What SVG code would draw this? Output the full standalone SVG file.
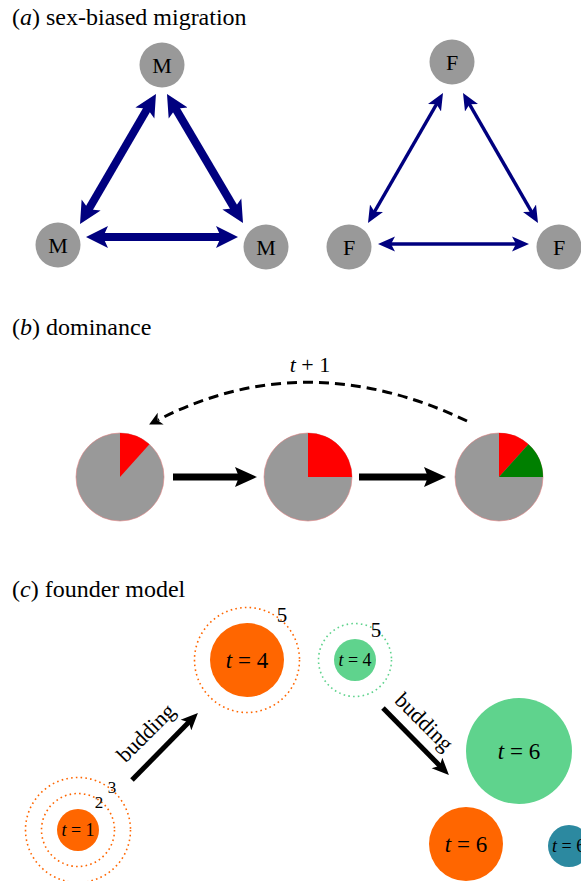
<svg xmlns="http://www.w3.org/2000/svg" width="581" height="881" viewBox="0 0 581 881">
<style>
text{font-family:"Liberation Serif","Times New Roman",serif;fill:#000}
.title{font-size:24px}
.node{fill:#999999}
.lbl{font-size:22px;text-anchor:middle}
.mig{fill:none;stroke:#00007f}
.pie{fill:#999999;stroke:#e08080;stroke-width:0.6}
.blk{stroke:#000;fill:none}
.ring{fill:none;stroke-width:1.6;stroke-dasharray:1.6 3.2}
.tl{text-anchor:middle}
</style>
<defs>
<marker id="hM" markerUnits="userSpaceOnUse" viewBox="0 -12 24 24" refX="8" refY="0" markerWidth="24" markerHeight="24" orient="auto-start-reverse">
<path d="M0,-11 L22,0 L0,11 L5,0 Z" fill="#00007f"/>
</marker>
<marker id="hF" markerUnits="userSpaceOnUse" viewBox="0 -9 19 18" refX="6" refY="0" markerWidth="19" markerHeight="18" orient="auto-start-reverse">
<path d="M0,-7.5 L17,0 L0,7.5 L4,0 Z" fill="#00007f"/>
</marker>
<marker id="hB" markerUnits="userSpaceOnUse" viewBox="0 -11 24 22" refX="8" refY="0" markerWidth="24" markerHeight="22" orient="auto">
<path d="M0,-10 L22,0 L0,10 L4,0 Z" fill="#000"/>
</marker>
<marker id="hD" markerUnits="userSpaceOnUse" viewBox="-2 -8 16 16" refX="3" refY="0" markerWidth="16" markerHeight="16" orient="auto">
<path d="M0,-6.5 L13,0 L0,6.5 L3.5,0 Z" fill="#000"/>
</marker>
<marker id="hC" markerUnits="userSpaceOnUse" viewBox="0 -9 19 18" refX="6" refY="0" markerWidth="19" markerHeight="18" orient="auto">
<path d="M0,-7.5 L17,0 L0,7.5 L4,0 Z" fill="#000"/>
</marker>
</defs>

<!-- Panel a -->
<text class="title" x="12" y="25">(<tspan font-style="italic">a</tspan>) sex-biased migration</text>
<g id="connectors-a">
<line class="mig" stroke-width="8" x1="148.9" y1="106.1" x2="87.1" y2="211.9" marker-start="url(#hM)" marker-end="url(#hM)"/>
<line class="mig" stroke-width="8" x1="174.1" y1="106.1" x2="235.9" y2="210.9" marker-start="url(#hM)" marker-end="url(#hM)"/>
<line class="mig" stroke-width="8" x1="100" y1="237" x2="224" y2="237" marker-start="url(#hM)" marker-end="url(#hM)"/>
<line class="mig" stroke-width="3.5" x1="437.5" y1="102.5" x2="373.5" y2="213.5" marker-start="url(#hF)" marker-end="url(#hF)"/>
<line class="mig" stroke-width="3.5" x1="468.5" y1="102.5" x2="532.5" y2="213.5" marker-start="url(#hF)" marker-end="url(#hF)"/>
<line class="mig" stroke-width="3.5" x1="389" y1="244" x2="518" y2="244" marker-start="url(#hF)" marker-end="url(#hF)"/>
</g>
<g id="m-top"><circle class="node" cx="162" cy="65" r="22.5"/><text class="lbl" x="162" y="72.5">M</text></g>
<g id="m-left"><circle class="node" cx="58" cy="245" r="22.5"/><text class="lbl" x="58" y="252.5">M</text></g>
<g id="m-right"><circle class="node" cx="266" cy="247" r="22.5"/><text class="lbl" x="266" y="254.5">M</text></g>
<g id="f-top"><circle class="node" cx="452" cy="62" r="22.5"/><text class="lbl" x="452" y="69.5">F</text></g>
<g id="f-left"><circle class="node" cx="349" cy="247" r="22.5"/><text class="lbl" x="349" y="254.5">F</text></g>
<g id="f-right"><circle class="node" cx="559" cy="247" r="22.5"/><text class="lbl" x="559" y="254.5">F</text></g>

<!-- Panel b -->
<text class="title" x="12" y="335">(<tspan font-style="italic">b</tspan>) dominance</text>
<g id="connectors-b">
<line class="blk" stroke-width="7" x1="173" y1="477" x2="243" y2="477" marker-end="url(#hB)"/>
<line class="blk" stroke-width="7" x1="359" y1="477" x2="432" y2="477" marker-end="url(#hB)"/>
<path class="blk" stroke-width="3" stroke-dasharray="10 6" d="M467,421 Q305,344 158,420" marker-end="url(#hD)"/>
<text x="310" y="372" font-size="22" class="tl"><tspan font-style="italic">t</tspan> + 1</text>
</g>
<g id="pie1">
<circle class="pie" cx="120" cy="477" r="44"/>
<path d="M120,477 L120,433 A44,44 0 0 1 149.44,444.3 Z" fill="#ff0000"/>
</g>
<g id="pie2">
<circle class="pie" cx="308" cy="477" r="44"/>
<path d="M308,477 L308,433 A44,44 0 0 1 352,477 Z" fill="#ff0000"/>
</g>
<g id="pie3">
<circle class="pie" cx="499" cy="477" r="44" stroke="#889977"/>
<path d="M499,477 L499,433 A44,44 0 0 1 528.44,444.3 Z" fill="#ff0000"/>
<path d="M499,477 L528.44,444.3 A44,44 0 0 1 543,477 Z" fill="#007f00"/>
</g>

<!-- Panel c -->
<text class="title" x="12" y="597">(<tspan font-style="italic">c</tspan>) founder model</text>
<g id="connectors-c">
<line class="blk" stroke-width="5" x1="132" y1="780" x2="190.2" y2="720.8" marker-end="url(#hC)"/>
<line class="blk" stroke-width="5" x1="383" y1="708" x2="441.2" y2="767.2" marker-end="url(#hC)"/>
<text x="151" y="738" font-size="22" class="tl" transform="rotate(-45 151 738)">budding</text>
<text x="419" y="727" font-size="22" class="tl" transform="rotate(45 419 727)">budding</text>
</g>
<g id="orange-t1">
<circle class="ring" stroke="#ff6600" cx="78" cy="830" r="52.5"/>
<circle class="ring" stroke="#ff6600" cx="78" cy="830" r="36.5"/>
<circle cx="78" cy="830" r="21" fill="#ff6600"/>
<text x="78" y="836" font-size="18" class="tl"><tspan font-style="italic">t</tspan> = 1</text>
<text x="99" y="808" font-size="17" class="tl">2</text>
<text x="112" y="793" font-size="17" class="tl">3</text>
</g>
<g id="orange-t4">
<circle class="ring" stroke="#ff6600" cx="247" cy="660" r="52.5"/>
<circle cx="247" cy="660" r="37" fill="#ff6600"/>
<text x="247" y="667.5" font-size="23" class="tl"><tspan font-style="italic">t</tspan> = 4</text>
<text x="282" y="622" font-size="21" class="tl">5</text>
</g>
<g id="green-t4">
<circle class="ring" stroke="#5fd38d" cx="355" cy="660" r="36.5"/>
<circle cx="355" cy="660" r="21" fill="#5fd38d"/>
<text x="355" y="666" font-size="18" class="tl"><tspan font-style="italic">t</tspan> = 4</text>
<text x="376" y="637" font-size="21" class="tl">5</text>
</g>
<g id="green-t6">
<circle cx="519" cy="751" r="53" fill="#5fd38d"/>
<text x="519" y="758.5" font-size="23" class="tl"><tspan font-style="italic">t</tspan> = 6</text>
</g>
<g id="orange-t6">
<circle cx="466" cy="844" r="37" fill="#ff6600"/>
<text x="466" y="851.5" font-size="23" class="tl"><tspan font-style="italic">t</tspan> = 6</text>
</g>
<g id="teal-t6">
<circle cx="569" cy="846" r="21" fill="#2c89a0"/>
<text x="552" y="852" font-size="18"><tspan font-style="italic">t</tspan> = 6</text>
</g>
</svg>
